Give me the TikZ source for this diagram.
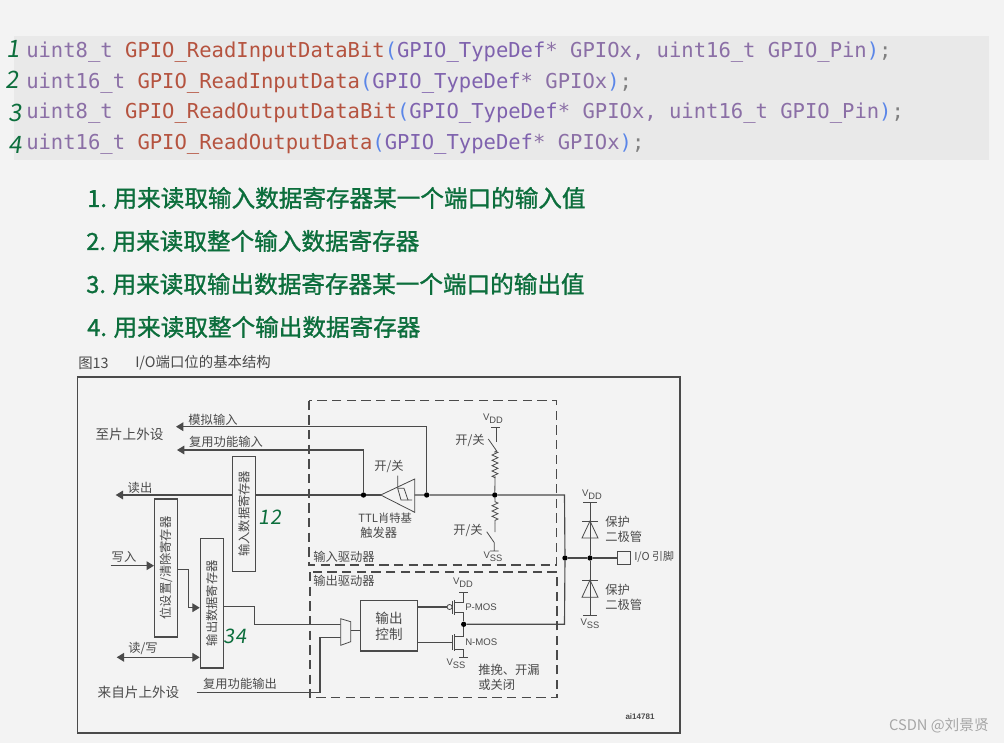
\documentclass[tikz,border=0pt]{standalone}
\usepackage{fontspec}
\setmainfont{Liberation Sans}
\setmonofont{DejaVu Sans Mono}
\newfontfamily\cjk{Noto Sans CJK SC}
\newfontfamily\hand[FakeBold=1.2]{Noto Sans CJK SC}
\newfontfamily\slanthand[FakeSlant=0.15]{Noto Sans CJK SC}
\usetikzlibrary{arrows.meta,decorations.pathmorphing}
\definecolor{pagebg}{HTML}{F3F3F3}
\definecolor{codebg}{HTML}{E9E9E9}
\definecolor{typecol}{HTML}{8B6FA6}
\definecolor{funccol}{HTML}{B5533F}
\definecolor{argcol}{HTML}{7F62AE}
\definecolor{parencol}{HTML}{5B86E8}
\definecolor{pencol}{HTML}{0C6E3C}
\definecolor{inkcol}{HTML}{4A4A4A}
\newcommand{\pwrdd}{V\raisebox{-2pt}{\scriptsize DD}}
\newcommand{\pwrss}{V\raisebox{-2pt}{\scriptsize SS}}
\begin{document}
\begin{tikzpicture}[
        x=0.75pt,y=-0.75pt,
        wire/.style={draw=inkcol,line width=0.85pt},
        thinwire/.style={draw=inkcol,line width=0.6pt},
        arrowline/.style={wire,-{Triangle[length=5.5pt,width=6.5pt]}},
        twotip/.style={wire,{Triangle[length=5.5pt,width=6.5pt]}-{Triangle[length=5.5pt,width=6.5pt]}},
        driver/.style={draw=inkcol,line width=0.8pt,dash pattern=on 7pt off 4pt},
        lbl/.style={text=inkcol,inner sep=0pt,font=\cjk\fontsize{9.2}{11}\selectfont},
        bigtxt/.style={lbl,font=\cjk\fontsize{10.2}{12}\selectfont},
        smalltxt/.style={text=inkcol,inner sep=0pt,font=\fontsize{7.2}{9}\selectfont},
        regbox/.style={lbl,draw=inkcol,line width=0.85pt,rotate=90,minimum height=17.25pt},
        dot/.style={circle,fill=black,inner sep=0pt,minimum size=4pt},
        codeline/.style={anchor=base west,inner sep=0pt,font=\ttfamily\fontsize{15.4}{18}\selectfont},
        penline/.style={text=pencol,inner sep=0pt,font=\hand\fontsize{17.7}{20}\selectfont},
        penmark/.style={text=pencol,inner sep=0pt,font=\slanthand\fontsize{15}{18}\selectfont},
        coil/.style={thinwire,decorate,decoration={zigzag,segment length=4pt,amplitude=2.2pt}}
    ]
\useasboundingbox (0,0) rectangle (1004,743);
\fill[pagebg] (0,0) rectangle (1004,743);
% Code
\fill[codebg] (14,36) rectangle (989,160);
\foreach\yy/\ret/\fname/\rest in {
    57/uint8\_t/GPIO\_ReadInputDataBit/{\color{argcol}GPIO\_TypeDef\color{typecol}* GPIOx, uint16\_t GPIO\_Pin},
    88/uint16\_t/GPIO\_ReadInputData/{\color{argcol}GPIO\_TypeDef\color{typecol}* GPIOx},
    118/uint8\_t/GPIO\_ReadOutputDataBit/{\color{argcol}GPIO\_TypeDef\color{typecol}* GPIOx, uint16\_t GPIO\_Pin},
    149/uint16\_t/GPIO\_ReadOutputData/{\color{argcol}GPIO\_TypeDef\color{typecol}* GPIOx}}{
    \node[codeline,text=typecol] at (26,\yy) {\ret\ \textcolor{funccol}{\fname}\textcolor{parencol}{(}\rest\textcolor{parencol}{)}\textcolor{gray}{;}};
}
% Notes
\foreach\nn/\xx/\yy in {1/13/49,2/12/80,3/15/113,4/15/145}{
    \node[penmark,font=\slanthand\fontsize{18}{20}\selectfont] (num\nn) at (\xx,\yy) {\nn};
}
\node[penline,anchor=west] (noteA) at (87,198) {1.\hspace{5pt}用来读取输入数据寄存器某一个端口的输入值};
\node[penline,anchor=west] (noteB) at (86,241) {2.\hspace{5pt}用来读取整个输入数据寄存器};
\node[penline,anchor=west] (noteC) at (86,284) {3.\hspace{5pt}用来读取输出数据寄存器某一个端口的输出值};
\node[penline,anchor=west] (noteD) at (87,327) {4.\hspace{5pt}用来读取整个输出数据寄存器};
% Frame
\node[lbl,anchor=west,font=\cjk\fontsize{10.8}{12}\selectfont] (figno) at (78,363) {图13};
\node[lbl,anchor=west,font=\cjk\fontsize{10.8}{12}\selectfont] (figname) at (135,363) {I/O端口位的基本结构};
\draw[draw=inkcol,line width=1pt] (77.5,377) rectangle (680,733);
\draw[driver] (309,400.5) rectangle (556.7,565);
\draw[driver] (310,572) rectangle (557,697.7);
% Registers
\node[regbox,minimum width=86.5pt] (inreg) at (244,513.8) {输入数据寄存器};
\node[regbox,minimum width=103.5pt] (setreg) at (166,568) {位设置/清除寄存器};
\node[regbox,minimum width=97pt] (outreg) at (211.8,603.3) {输出数据寄存器};
\node[bigtxt,draw=inkcol,line width=0.85pt,align=center,minimum width=42.5pt,minimum height=37.7pt] (ctrl) at (389,625.8) {输出\\控制};
% Junctions
\node[dot] (jtrig) at (363.5,495) {};
\node[dot] (jana) at (426.7,495) {};
\node[dot] (jres) at (494.8,495) {};
\node[dot] (jbus) at (565,558) {};
\node[dot] (jdio) at (590,558) {};
\node[dot] (jmos) at (463.7,624.3) {};
\node[draw=inkcol,line width=0.8pt,fill=pagebg,inner sep=0pt,minimum size=9.5pt] (pin) at (623.8,558) {};
% Schmitt trigger
\coordinate (trigA) at (380.7,495);
\coordinate (trigB) at (414.7,479);
\coordinate (trigC) at (414.7,512.3);
\draw[thinwire] (trigA) -- (trigB) -- (trigC) -- cycle;
\draw[thinwire] (397.7,475.7) -- (397.7,488.3) -- (404,488.3) -- (408,500) -- (412,500);
\draw[thinwire] (397.7,488.3) -- (401,500) -- (408,500);
% Input side
\coordinate (anaEnd) at (176,426.7);
\coordinate (altEnd) at (177,450);
\coordinate (readEnd) at (115.7,495);
\draw[arrowline] (jana) -- (426.7,426.7) -- (anaEnd);
\draw[arrowline] (jtrig) -- (363.5,450) -- (altEnd);
\draw[arrowline] (inreg.north |- readEnd) -- (readEnd);
\draw[wire] (inreg.south |- jtrig) -- (jtrig) -- (trigA);
\draw[wire] (414.7,495) -- (jana) -- (jres) -- (564.5,495) -- (jbus) -- (564.5,624.3) -- (jmos);
% Output side
\coordinate (writeIn) at (110.7,565.7);
\coordinate (rwEnd) at (116.7,657.3);
\coordinate (altOut) at (196.7,692.3);
\coordinate (muxA) at (340.7,618.7);
\coordinate (muxB) at (350.7,621.7);
\coordinate (muxC) at (350.7,641.7);
\coordinate (muxD) at (340.7,645.3);
\draw[arrowline] (writeIn) -- (setreg.north |- writeIn);
\draw[arrowline] (setreg.south |- 0,569.3) -- (188.3,569.3) -- (188.3,607.7) -- (outreg.north |- 0,607.7);
\draw[twotip] (rwEnd) -- (outreg.north |- rwEnd);
\draw[wire] (outreg.south |- 0,606.7) -- (254.7,606.7) -- (254.7,624.7) -- (340.7,624.7);
\draw[wire] (altOut) -- (320,692.3) -- (320,637.7) -- (340.7,637.7);
\draw[thinwire,fill=pagebg] (muxA) -- (muxB) -- (muxC) -- (muxD) -- cycle;
\draw[wire] (350.7,630.5) -- (ctrl.west |- 0,630.5);
% MOS pair
\coordinate (pvdd) at (463.7,592);
\coordinate (nvss) at (463.7,657.7);
\draw[wire] (ctrl.east |- 0,607) -- (447,607);
\draw[thinwire] (449.6,607) circle (1.9pt);
\draw[wire] (ctrl.east |- 0,642.3) -- (452.3,642.3);
\draw[thinwire] (452.3,600.7) -- (452.3,614.3) (452.3,635) -- (452.3,650);
\draw[wire] (454.8,600) -- (454.8,615) (454.8,634) -- (454.8,650.5);
\draw[thinwire] (454.8,602) -- (463.7,602) -- (pvdd) (459,592) -- (468.4,592);
\draw[thinwire] (454.8,612) -- (463.7,612) -- (jmos) -- (463.7,636) -- (454.8,636);
\draw[thinwire] (454.8,649) -- (463.7,649) -- (nvss) (459,657.7) -- (468.4,657.7);
% Pull resistors
\draw[thinwire] (491,427.3) -- (499.5,427.3) (496,427.3) -- (496,441.7);
\draw[thinwire] (488.3,439) -- (496.7,451);
\draw[coil] (495,451) -- (495,478);
\draw[thinwire] (495,451) -- (495,453) (495,476) -- (jres);
\draw[coil] (495,501.7) -- (495,523);
\draw[thinwire] (jres) -- (495,502) (495,523) -- (495,532);
\draw[thinwire] (486.7,531.7) -- (494.3,542.7) -- (494.3,551) (490,551) -- (498.6,551);
% Diodes
\foreach\bary/\baseY/\endy in {521/538/502.3,580/597.3/615.7}{
    \draw[thinwire] (582,\bary) -- (598,\bary);
    \draw[thinwire] (590,\bary) -- (582,\baseY) -- (598,\baseY) -- cycle;
    \draw[thinwire] (590,\endy) -- (590,\bary) (590,\baseY) -- (590,\endy);
    \draw[thinwire] (583,\endy) -- (597,\endy);
}
\draw[wire] (jbus) -- (jdio) -- (pin);
\draw[thinwire] (590,538) -- (jdio) -- (590,580);
% Labels
\node[bigtxt] (toperi) at (129.5,434) {至片上外设};
\node[bigtxt] (fromperi) at (138.5,692) {来自片上外设};
\node[lbl] (ana) at (213,420) {模拟输入};
\node[lbl] (altin) at (226,442) {复用功能输入};
\node[lbl] (rdl) at (140,488) {读出};
\node[lbl] (wrl) at (124,557) {写入};
\node[lbl] (rwl) at (143,648) {读/写};
\node[lbl] (altoutl) at (240,684) {复用功能输出};
\node[lbl] (sw) at (389,466) {开/关};
\node[lbl] (swa) at (470,440) {开/关};
\node[lbl] (swb) at (468,530) {开/关};
\node[lbl,anchor=west,font=\cjk\fontsize{8.5}{11}\selectfont] (ttl) at (358,518) {TTL肖特基};
\node[lbl,anchor=west] (ttlb) at (360,533) {触发器};
\node[lbl,anchor=west] (indrv) at (313,557) {输入驱动器};
\node[lbl,anchor=west] (outdrv) at (313,581) {输出驱动器};
\node[lbl,anchor=west] (pp) at (478,670) {推挽、开漏};
\node[lbl,anchor=west] (ppb) at (478,685) {或关闭};
\node[smalltxt,anchor=west] (pmos) at (465,607) {P-MOS};
\node[smalltxt,anchor=west] (nmos) at (465,642) {N-MOS};
\foreach\nm/\xx/\yy/\txt in {va/493/419/\pwrdd,vb/463/583/\pwrdd,vc/592/495/\pwrdd,vd/493/557/\pwrss,ve/456/664/\pwrss,vf/590/624/\pwrss}{
    \node[smalltxt] (\nm) at (\xx,\yy) {\txt};
}
\foreach\nm/\yy in {pa/522,pb/590}{
    \node[lbl,anchor=west] (\nm) at (605,\yy) {保护};
}
\foreach\nm/\yy in {pc/537,pd/605}{
    \node[lbl,anchor=west] (\nm) at (605,\yy) {二极管};
}
\node[lbl,anchor=west,font=\cjk\fontsize{8.2}{11}\selectfont] (iopin) at (634,557) {I/O 引脚};
\node[smalltxt,anchor=center,font=\bfseries\fontsize{6}{8}\selectfont] (figid) at (640,716.5) {ai14781};
\node[penmark] (markA) at (270,517) {12};
\node[penmark] (markB) at (235,636) {34};
\node[inner sep=0pt,text=gray!70,anchor=east,font=\cjk\fontsize{11}{12}\selectfont] (mark) at (989,726) {CSDN @刘景贤};
\end{tikzpicture}
\end{document}
